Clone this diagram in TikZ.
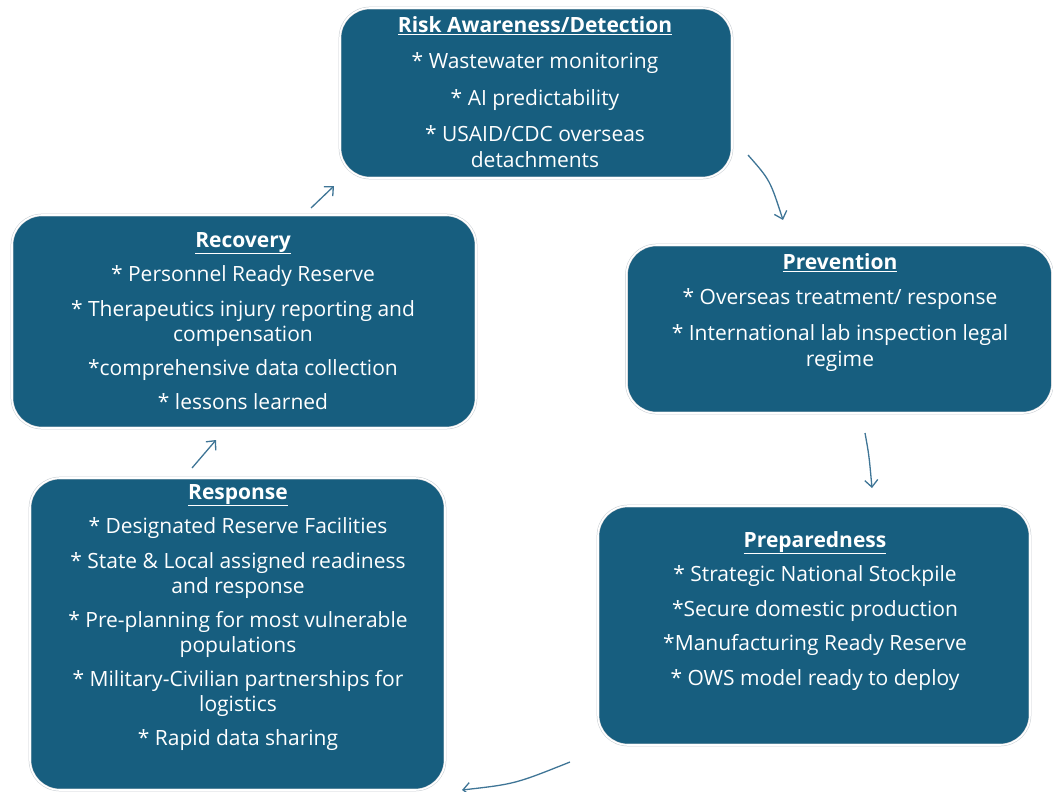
\documentclass[tikz,border=0pt]{standalone}
\usepackage{fontspec}
\setmainfont{Open Sans}
\usetikzlibrary{arrows.meta}
\definecolor{boxfill}{HTML}{175E7F}
\definecolor{arrowcol}{HTML}{3F7596}
\definecolor{rimgray}{HTML}{C8CDD2}
\tikzset{
  stagebox/.style={rectangle, rounded corners=30pt, fill=boxfill, draw=rimgray, double=white, double distance=1.6pt, line width=0.5pt, inner sep=0pt},
  stagetext/.style={anchor=north, align=center, text=white, inner sep=0pt, font=\fontsize{21}{25}\selectfont},
  flow/.style={draw=arrowcol, line width=1.3pt, -{Straight Barb[length=7pt,width=13pt,line width=1.3pt]}},
}
\newcommand{\ttl}[1]{\textbf{\underline{#1}}}
\begin{document}
\begin{tikzpicture}[x=1pt,y=-1pt]
\useasboundingbox (0,0) rectangle (1053,792);
% boxes
\node[stagebox, minimum width=392pt, minimum height=170pt] (risk) at (536,93) {};
\node[stagebox, minimum width=426pt, minimum height=168pt] (prev) at (839.5,329) {};
\node[stagebox, minimum width=432pt, minimum height=239pt] (prep) at (814,625.5) {};
\node[stagebox, minimum width=415pt, minimum height=312pt] (resp) at (237.5,634) {};
\node[stagebox, minimum width=464pt, minimum height=213pt] (reco) at (244,321.5) {};
% texts
\node[stagetext] (risktxt) at (535,16) {\ttl{Risk Awareness/Detection}\\[11pt]
* Wastewater monitoring\\[12pt]
* AI predictability\\[11pt]
* USAID/CDC overseas\\[1pt] detachments};
\node[stagetext] (prevtxt) at (840,253) {\ttl{Prevention}\\[10.5pt]
* Overseas treatment/ response\\[11pt]
* International lab inspection legal\\[1pt] regime};
\node[stagetext] (preptxt) at (815,531) {\ttl{Preparedness}\\[9.5pt]
* Strategic National Stockpile\\[9.5pt]
*Secure domestic production\\[9.5pt]
*Manufacturing Ready Reserve\\[9.5pt]
* OWS model ready to deploy};
\node[stagetext] (resptxt) at (238,484) {\ttl{Response}\\[9.5pt]
* Designated Reserve Facilities\\[9.5pt]
* State \& Local assigned readiness\\ and response\\[9pt]
* Pre-planning for most vulnerable\\ populations\\[9pt]
* Military-Civilian partnerships for\\ logistics\\[9pt]
* Rapid data sharing};
\node[stagetext] (recotxt) at (243,232) {\ttl{Recovery}\\[9.5pt]
* Personnel Ready Reserve\\[9.5pt]
* Therapeutics injury reporting and\\ compensation\\[9pt]
*comprehensive data collection\\[9pt]
* lessons learned};
% arrow end points
\coordinate (a1s) at (748,155); \coordinate (a1e) at (783,220);
\coordinate (a2s) at (865,433); \coordinate (a2e) at (872,488);
\coordinate (a3s) at (570,762); \coordinate (a3e) at (462,790);
\coordinate (a4s) at (192,468); \coordinate (a4e) at (216,440);
\coordinate (a5s) at (311,208); \coordinate (a5e) at (334,186);
\draw[flow] (a1s) .. controls (770,180) .. (a1e);
\draw[flow] (a2s) .. controls (869,455) .. (a2e);
\draw[flow] (a3s) .. controls (515,784) .. (a3e);
\draw[flow] (a4s) -- (a4e);
\draw[flow] (a5s) -- (a5e);
\end{tikzpicture}
\end{document}
